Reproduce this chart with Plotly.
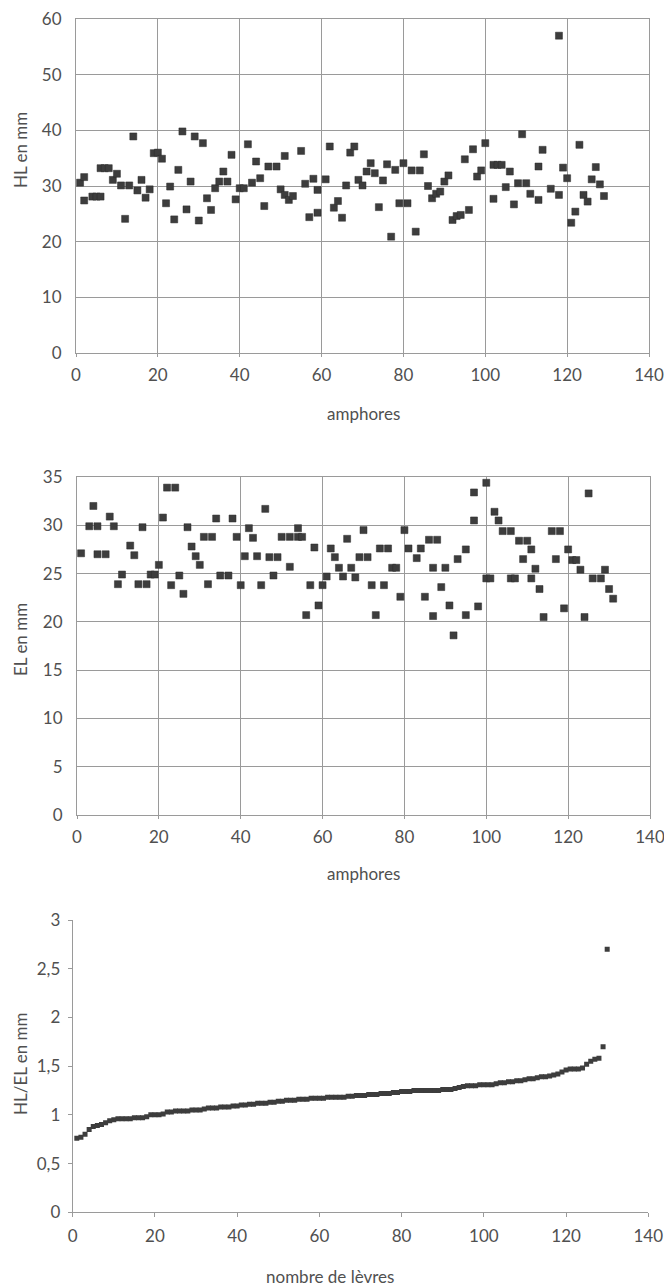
import plotly.graph_objects as go

# --- HL (hauteur de lèvre) par amphore ---
hl_x = [1, 2, 2, 4, 5, 6, 6, 7, 8, 9, 10, 11, 12, 13, 14, 15, 16, 17, 18, 19,
        20, 21, 22, 23, 24, 25, 26, 27, 28, 29, 30, 31, 32, 33, 34, 35, 36, 37, 38, 39,
        40, 41, 42, 43, 44, 45, 46, 47, 49, 50, 51, 51, 52, 53, 55, 56, 57, 58, 59, 59,
        61, 62, 63, 64, 65, 66, 67, 68, 69, 70, 71, 72, 73, 74, 75, 76, 77, 78, 79, 80,
        81, 82, 83, 84, 85, 86, 87, 88, 89, 90, 91, 92, 93, 94, 95, 96, 97, 98, 99, 100,
        102, 102, 103, 104, 105, 106, 107, 108, 109, 110, 111, 113, 113, 114, 116, 118, 118, 119, 120, 121,
        122, 123, 124, 125, 126, 127, 128, 129]
hl = [30.6, 31.6, 27.4, 28.1, 28.1, 28.1, 33.2, 33.2, 33.2, 31.1, 32.2, 30.1, 24.1, 30.1, 38.9, 29.2, 31.1, 27.9, 29.4, 35.9,
      36.0, 34.9, 26.9, 29.9, 24.0, 32.9, 39.8, 25.8, 30.8, 38.9, 23.8, 37.7, 27.8, 25.7, 29.6, 30.8, 32.6, 30.8, 35.6, 27.6,
      29.6, 29.6, 37.5, 30.6, 34.4, 31.4, 26.4, 33.5, 33.5, 29.4, 35.4, 28.4, 27.5, 28.2, 36.3, 30.4, 24.4, 31.3, 29.3, 25.2,
      31.2, 37.1, 26.1, 27.3, 24.3, 30.1, 36.0, 37.1, 31.1, 30.1, 32.6, 34.1, 32.3, 26.2, 31.0, 33.9, 20.9, 32.9, 26.9, 34.1,
      26.9, 32.8, 21.8, 32.8, 35.7, 30.0, 27.8, 28.6, 29.0, 30.8, 31.9, 23.9, 24.6, 24.8, 34.8, 25.7, 36.6, 31.7, 32.8, 37.7,
      33.8, 27.7, 33.8, 33.8, 29.8, 32.6, 26.7, 30.5, 39.3, 30.5, 28.6, 27.5, 33.5, 36.5, 29.5, 28.4, 57.0, 33.3, 31.4, 23.4,
      25.4, 37.4, 28.4, 27.2, 31.2, 33.4, 30.3, 28.2]

# --- EL (épaisseur de lèvre) par amphore ---
el_x = [1, 3, 4, 5, 5, 7, 8, 9, 10, 11, 13, 14, 15, 16, 17, 18, 19, 20, 21, 22,
        23, 24, 25, 26, 27, 28, 29, 30, 31, 32, 33, 34, 35, 37, 38, 39, 40, 41, 42, 43,
        44, 45, 46, 47, 48, 49, 50, 52, 52, 54, 54, 55, 56, 57, 58, 59, 60, 61, 62, 63,
        64, 65, 66, 67, 68, 69, 70, 71, 72, 73, 74, 75, 76, 77, 78, 79, 80, 81, 83, 84,
        85, 86, 87, 87, 88, 89, 90, 91, 92, 93, 95, 95, 97, 97, 98, 100, 100, 101, 102, 103,
        104, 106, 106, 107, 108, 109, 110, 111, 111, 112, 113, 114, 116, 117, 118, 119, 120, 121, 122, 123,
        124, 125, 126, 128, 129, 130, 131]
el = [27.1, 29.9, 32.0, 29.9, 27.0, 27.0, 30.9, 29.9, 23.9, 24.9, 27.9, 26.9, 23.9, 29.8, 23.9, 24.9, 24.9, 25.9, 30.8, 33.9,
      23.8, 33.9, 24.8, 22.9, 29.8, 27.8, 26.8, 25.9, 28.8, 23.9, 28.8, 30.7, 24.8, 24.8, 30.7, 28.8, 23.8, 26.8, 29.7, 28.7,
      26.8, 23.8, 31.7, 26.7, 24.8, 26.7, 28.8, 28.8, 25.7, 28.8, 29.7, 28.8, 20.7, 23.8, 27.7, 21.7, 23.8, 24.7, 27.6, 26.7,
      25.6, 24.7, 28.6, 25.6, 24.6, 26.7, 29.5, 26.7, 23.8, 20.7, 27.6, 23.8, 27.6, 25.6, 25.6, 22.6, 29.5, 27.6, 26.6, 27.6,
      22.6, 28.5, 20.6, 25.6, 28.5, 23.6, 25.6, 21.7, 18.6, 26.5, 27.5, 20.7, 33.4, 30.5, 21.6, 34.4, 24.5, 24.5, 31.4, 30.5,
      29.4, 29.4, 24.5, 24.5, 28.4, 26.5, 28.4, 24.5, 27.5, 25.5, 23.4, 20.5, 29.4, 26.5, 29.4, 21.4, 27.5, 26.4, 26.4, 25.4,
      20.5, 33.3, 24.5, 24.5, 25.4, 23.4, 22.4]

# --- rapport HL/EL trié ---
ratio = [0.76, 0.77, 0.80, 0.85, 0.88, 0.89, 0.90, 0.92, 0.94, 0.95,
         0.96, 0.96, 0.96, 0.96, 0.97, 0.97, 0.97, 0.98, 1.00, 1.00,
         1.00, 1.01, 1.03, 1.03, 1.04, 1.04, 1.04, 1.04, 1.05, 1.05,
         1.05, 1.06, 1.07, 1.07, 1.07, 1.08, 1.08, 1.08, 1.09, 1.09,
         1.10, 1.10, 1.11, 1.11, 1.12, 1.12, 1.12, 1.13, 1.13, 1.14,
         1.14, 1.15, 1.15, 1.15, 1.16, 1.16, 1.16, 1.17, 1.17, 1.17,
         1.17, 1.18, 1.18, 1.18, 1.18, 1.18, 1.19, 1.19, 1.20, 1.20,
         1.20, 1.21, 1.21, 1.21, 1.22, 1.22, 1.22, 1.23, 1.23, 1.24,
         1.24, 1.24, 1.25, 1.25, 1.25, 1.25, 1.25, 1.25, 1.25, 1.26,
         1.26, 1.26, 1.27, 1.28, 1.29, 1.30, 1.30, 1.30, 1.31, 1.31,
         1.31, 1.31, 1.32, 1.33, 1.33, 1.34, 1.34, 1.35, 1.35, 1.36,
         1.37, 1.37, 1.38, 1.39, 1.39, 1.40, 1.41, 1.42, 1.44, 1.46,
         1.47, 1.47, 1.47, 1.48, 1.52, 1.55, 1.57, 1.58, 1.70, 2.70]
ratio_x = list(range(1, len(ratio) + 1))

W, H = 664, 1288
marker_color = "#3d3d3d"
text_color = "#505050"
grid_color = "#9a9a9a"
font_family = "Lato, Open Sans, sans-serif"

fig = go.Figure()

fig.add_trace(go.Scatter(
    x=hl_x, y=hl, mode="markers", xaxis="x", yaxis="y",
    marker=dict(symbol="square", size=7, color=marker_color,
                line=dict(color="#2a2a2a", width=0.5)),
))
fig.add_trace(go.Scatter(
    x=el_x, y=el, mode="markers", xaxis="x2", yaxis="y2",
    marker=dict(symbol="square", size=7, color=marker_color,
                line=dict(color="#2a2a2a", width=0.5)),
))
fig.add_trace(go.Scatter(
    x=ratio_x, y=ratio, mode="markers", xaxis="x3", yaxis="y3",
    marker=dict(symbol="square", size=5, color=marker_color),
))

tick_font = dict(size=17, color=text_color, family=font_family)

common = dict(automargin=False, zeroline=False, tickfont=tick_font,
              ticklabeloverflow="allow",
              showline=True, linecolor=grid_color, linewidth=1)

grid_x = dict(common, showgrid=True, gridcolor=grid_color, gridwidth=1, mirror=True,
              ticks="outside", ticklen=3, tickcolor=grid_color, ticklabelstandoff=4)
grid_y = dict(common, showgrid=True, gridcolor=grid_color, gridwidth=1, mirror=True,
              ticks="outside", ticklen=4, tickcolor="rgba(0,0,0,0)", ticklabelstandoff=6)
plain_x = dict(common, showgrid=False, ticks="outside", ticklen=4,
               tickcolor=grid_color, ticklabelstandoff=4)
plain_y = dict(common, showgrid=False, ticks="outside", ticklen=4,
               tickcolor=grid_color, ticklabelstandoff=4)


def px(x):
    return x / W


def py(y):
    return 1 - y / H


def axis_title(text, x, y, angle=0):
    return dict(text=text, x=px(x), y=py(y), xref="paper", yref="paper",
                xanchor="center", yanchor="middle", textangle=angle,
                showarrow=False, font=dict(size=17, color=text_color, family=font_family))


fig.update_layout(
    width=W, height=H,
    margin=dict(l=0, r=0, t=0, b=0),
    paper_bgcolor="white", plot_bgcolor="white",
    showlegend=False,
    font=dict(family=font_family, color=text_color),
    # graphique 1 : HL
    xaxis=dict(grid_x, domain=[px(76), px(649)], anchor="y", range=[0, 140], dtick=20),
    yaxis=dict(grid_y, domain=[py(353), py(19)], anchor="x", range=[0, 60], dtick=10),
    # graphique 2 : EL
    xaxis2=dict(grid_x, domain=[px(77), px(650)], anchor="y2", range=[0, 140], dtick=20),
    yaxis2=dict(grid_y, domain=[py(815), py(477)], anchor="x2", range=[0, 35], dtick=5),
    # graphique 3 : HL/EL
    xaxis3=dict(plain_x, domain=[px(72.7), px(648.3)], anchor="y3", range=[0, 140], dtick=20),
    yaxis3=dict(plain_y, domain=[py(1212.3), py(920)], anchor="x3", range=[0, 3],
                tickvals=[0, 0.5, 1, 1.5, 2, 2.5, 3],
                ticktext=["0", "0,5", "1", "1,5", "2", "2,5", "3"]),
    annotations=[
        axis_title("HL en mm", 20, 150, -90),
        axis_title("amphores", 363, 413),
        axis_title("EL en mm", 20, 640, -90),
        axis_title("amphores", 363, 873),
        axis_title("HL/EL en mm", 20, 1064, -90),
        axis_title("nombre de lèvres", 330, 1276),
    ],
)

# la page html ajoute une marge de 8 px autour du graphique : on l'enlève
fig.write_html("out.html", config={"displayModeBar": False},
               post_script="document.body.style.margin = '0';")
